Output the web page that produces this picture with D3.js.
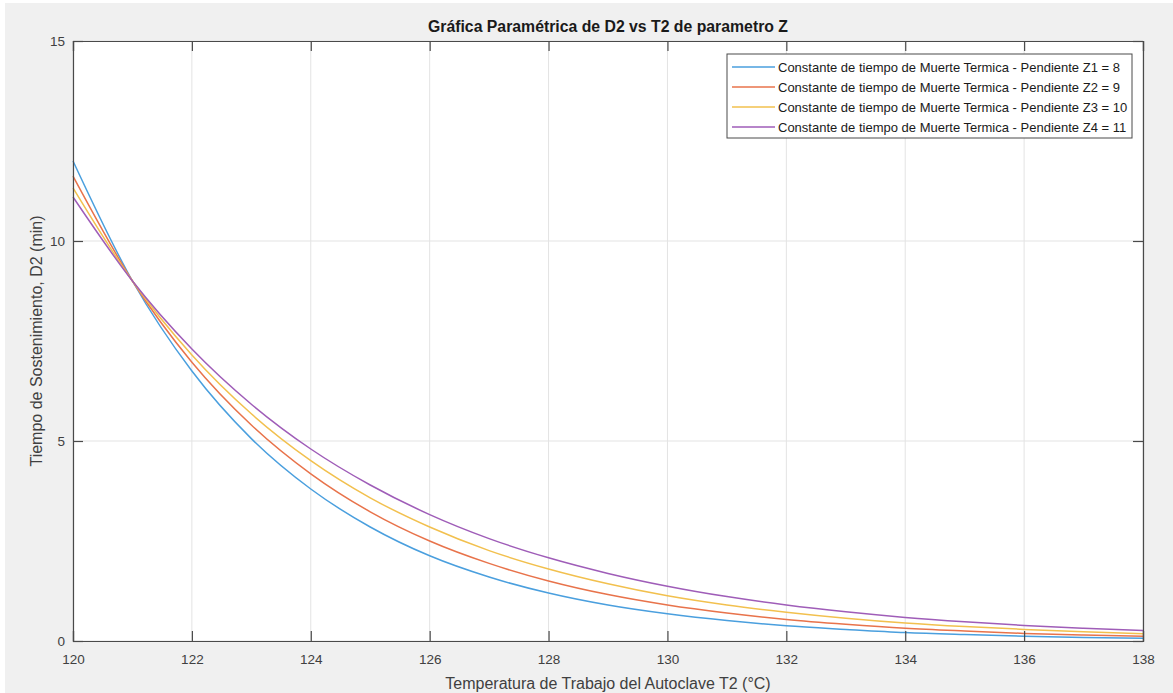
<!DOCTYPE html>
<html>
  <head>
    <meta charset="utf-8">
    <title>D2 vs T2</title>
    <script src="https://d3js.org/d3.v7.min.js"></script>
    <style>
      body { margin: 0; background: #ffffff; }
      text { font-family: "Liberation Sans", Arial, sans-serif; }
    </style>
  </head>
  <body>
    <script>
      // temperatures (°C) and holding time D2 (min)
      const temps = [120, 121, 122, 123, 124, 125, 126, 127, 128, 129, 130, 131, 132, 133, 134, 135, 136, 137, 138];
      const d2Z1 = [12.00, 9.00, 6.75, 5.06, 3.80, 2.85, 2.13, 1.60, 1.20, 0.90, 0.68, 0.51, 0.38, 0.29, 0.21, 0.16, 0.12, 0.09, 0.07];
      const d2Z2 = [11.62, 9.00, 6.97, 5.40, 4.18, 3.23, 2.50, 1.94, 1.50, 1.16, 0.90, 0.70, 0.54, 0.42, 0.32, 0.25, 0.19, 0.15, 0.12];
      const d2Z3 = [11.33, 9.00, 7.15, 5.68, 4.51, 3.58, 2.85, 2.26, 1.80, 1.43, 1.13, 0.90, 0.72, 0.57, 0.45, 0.36, 0.29, 0.23, 0.18];
      const d2Z4 = [11.10, 9.00, 7.30, 5.92, 4.80, 3.90, 3.16, 2.56, 2.08, 1.69, 1.37, 1.11, 0.90, 0.73, 0.59, 0.48, 0.39, 0.32, 0.26];
      const seriesNames = [
        "Constante de tiempo de Muerte Termica - Pendiente Z1 = 8",
        "Constante de tiempo de Muerte Termica - Pendiente Z2 = 9",
        "Constante de tiempo de Muerte Termica - Pendiente Z3 = 10",
        "Constante de tiempo de Muerte Termica - Pendiente Z4 = 11"
      ];
      const xTicks = [120, 122, 124, 126, 128, 130, 132, 134, 136, 138];
      const yTicks = [0, 5, 10, 15];

      const colors = ["#4a9fde", "#e8734b", "#f2c04e", "#9f5db8"];
      const allSeries = [d2Z1, d2Z2, d2Z3, d2Z4];

      const width = 1173;
      const height = 693;
      const plotLeft = 73, plotRight = 1143, plotTop = 41, plotBottom = 641;

      const svg = d3.select("body").append("svg")
        .attr("width", width)
        .attr("height", height);

      // figure background
      svg.append("rect")
        .attr("x", 5).attr("y", 3)
        .attr("width", width - 5).attr("height", height - 3)
        .attr("fill", "#f0f0f0");

      svg.append("rect")
        .attr("x", plotLeft).attr("y", plotTop)
        .attr("width", plotRight - plotLeft).attr("height", plotBottom - plotTop)
        .attr("fill", "#ffffff");

      const xScale = d3.scaleLinear().domain([120, 138]).range([plotLeft, plotRight]);
      const yScale = d3.scaleLinear().domain([0, 15]).range([plotBottom, plotTop]);

      // grid
      svg.append("g").selectAll("line")
        .data(xTicks)
        .join("line")
          .attr("x1", d => xScale(d)).attr("x2", d => xScale(d))
          .attr("y1", plotTop).attr("y2", plotBottom)
          .attr("stroke", "#e3e3e3").attr("stroke-width", 1);
      svg.append("g").selectAll("line")
        .data(yTicks)
        .join("line")
          .attr("x1", plotLeft).attr("x2", plotRight)
          .attr("y1", d => yScale(d)).attr("y2", d => yScale(d))
          .attr("stroke", "#e3e3e3").attr("stroke-width", 1);

      // curves
      const line = d3.line()
        .x((d, i) => xScale(temps[i]))
        .y(d => yScale(d))
        .curve(d3.curveMonotoneX);

      allSeries.forEach((s, k) => {
        svg.append("path")
          .attr("d", line(s))
          .attr("fill", "none")
          .attr("stroke", colors[k])
          .attr("stroke-width", 1.5);
      });

      // axes, ticks pointing inwards like matlab
      const axisColor = "#4a4a4a";
      const xAxis = d3.axisBottom(xScale).tickValues(xTicks).tickSize(-10).tickFormat(d3.format("d"));
      const yAxis = d3.axisLeft(yScale).tickValues(yTicks).tickSize(-10).tickFormat(d3.format("d"));

      const gx = svg.append("g").attr("transform", "translate(0," + plotBottom + ")").call(xAxis);
      const gy = svg.append("g").attr("transform", "translate(" + plotLeft + ",0)").call(yAxis);
      const gxTop = svg.append("g").attr("transform", "translate(0," + plotTop + ")")
        .call(d3.axisTop(xScale).tickValues(xTicks).tickSize(-10).tickFormat(""));
      const gyRight = svg.append("g").attr("transform", "translate(" + plotRight + ",0)")
        .call(d3.axisRight(yScale).tickValues(yTicks).tickSize(-10).tickFormat(""));

      [gx, gy, gxTop, gyRight].forEach(g => {
        g.select(".domain").attr("stroke", axisColor).attr("stroke-width", 1.2);
        g.selectAll(".tick line").attr("stroke", axisColor).attr("stroke-width", 1.2);
        g.selectAll(".tick text")
          .attr("fill", "#404040")
          .style("font-size", "13.5px")
          .style("font-family", "'Liberation Sans', Arial, sans-serif");
      });
      gx.selectAll(".tick text").attr("dy", "0.35em").attr("y", 18);
      gy.selectAll(".tick text").attr("x", -8);

      // titles
      svg.append("text")
        .attr("x", 608).attr("y", 32)
        .attr("text-anchor", "middle")
        .attr("font-weight", "bold")
        .attr("font-size", "15.8px")
        .attr("fill", "#1a1a1a")
        .text("Gráfica Paramétrica de D2 vs T2 de parametro Z");

      svg.append("text")
        .attr("x", 608).attr("y", 689)
        .attr("text-anchor", "middle")
        .attr("font-size", "16px")
        .attr("fill", "#404040")
        .text("Temperatura de Trabajo del Autoclave T2 (°C)");

      svg.append("text")
        .attr("transform", "translate(42," + ((plotTop + plotBottom) / 2) + ") rotate(-90)")
        .attr("text-anchor", "middle")
        .attr("font-size", "16px")
        .attr("fill", "#404040")
        .text("Tiempo de Sostenimiento, D2 (min)");

      // legend
      const lg = svg.append("g").attr("transform", "translate(727,54)");
      lg.append("rect")
        .attr("width", 405).attr("height", 84)
        .attr("fill", "#ffffff")
        .attr("stroke", "#4a4a4a").attr("stroke-width", 1);
      seriesNames.forEach((name, k) => {
        const y = 13 + k * 20;
        lg.append("line")
          .attr("x1", 5).attr("x2", 48)
          .attr("y1", y).attr("y2", y)
          .attr("stroke", colors[k]).attr("stroke-width", 1.5);
        lg.append("text")
          .attr("x", 51).attr("y", y)
          .attr("dy", "0.35em")
          .attr("font-size", "13px")
          .attr("fill", "#1a1a1a")
          .text(name);
      });
    </script>
  </body>
</html>
